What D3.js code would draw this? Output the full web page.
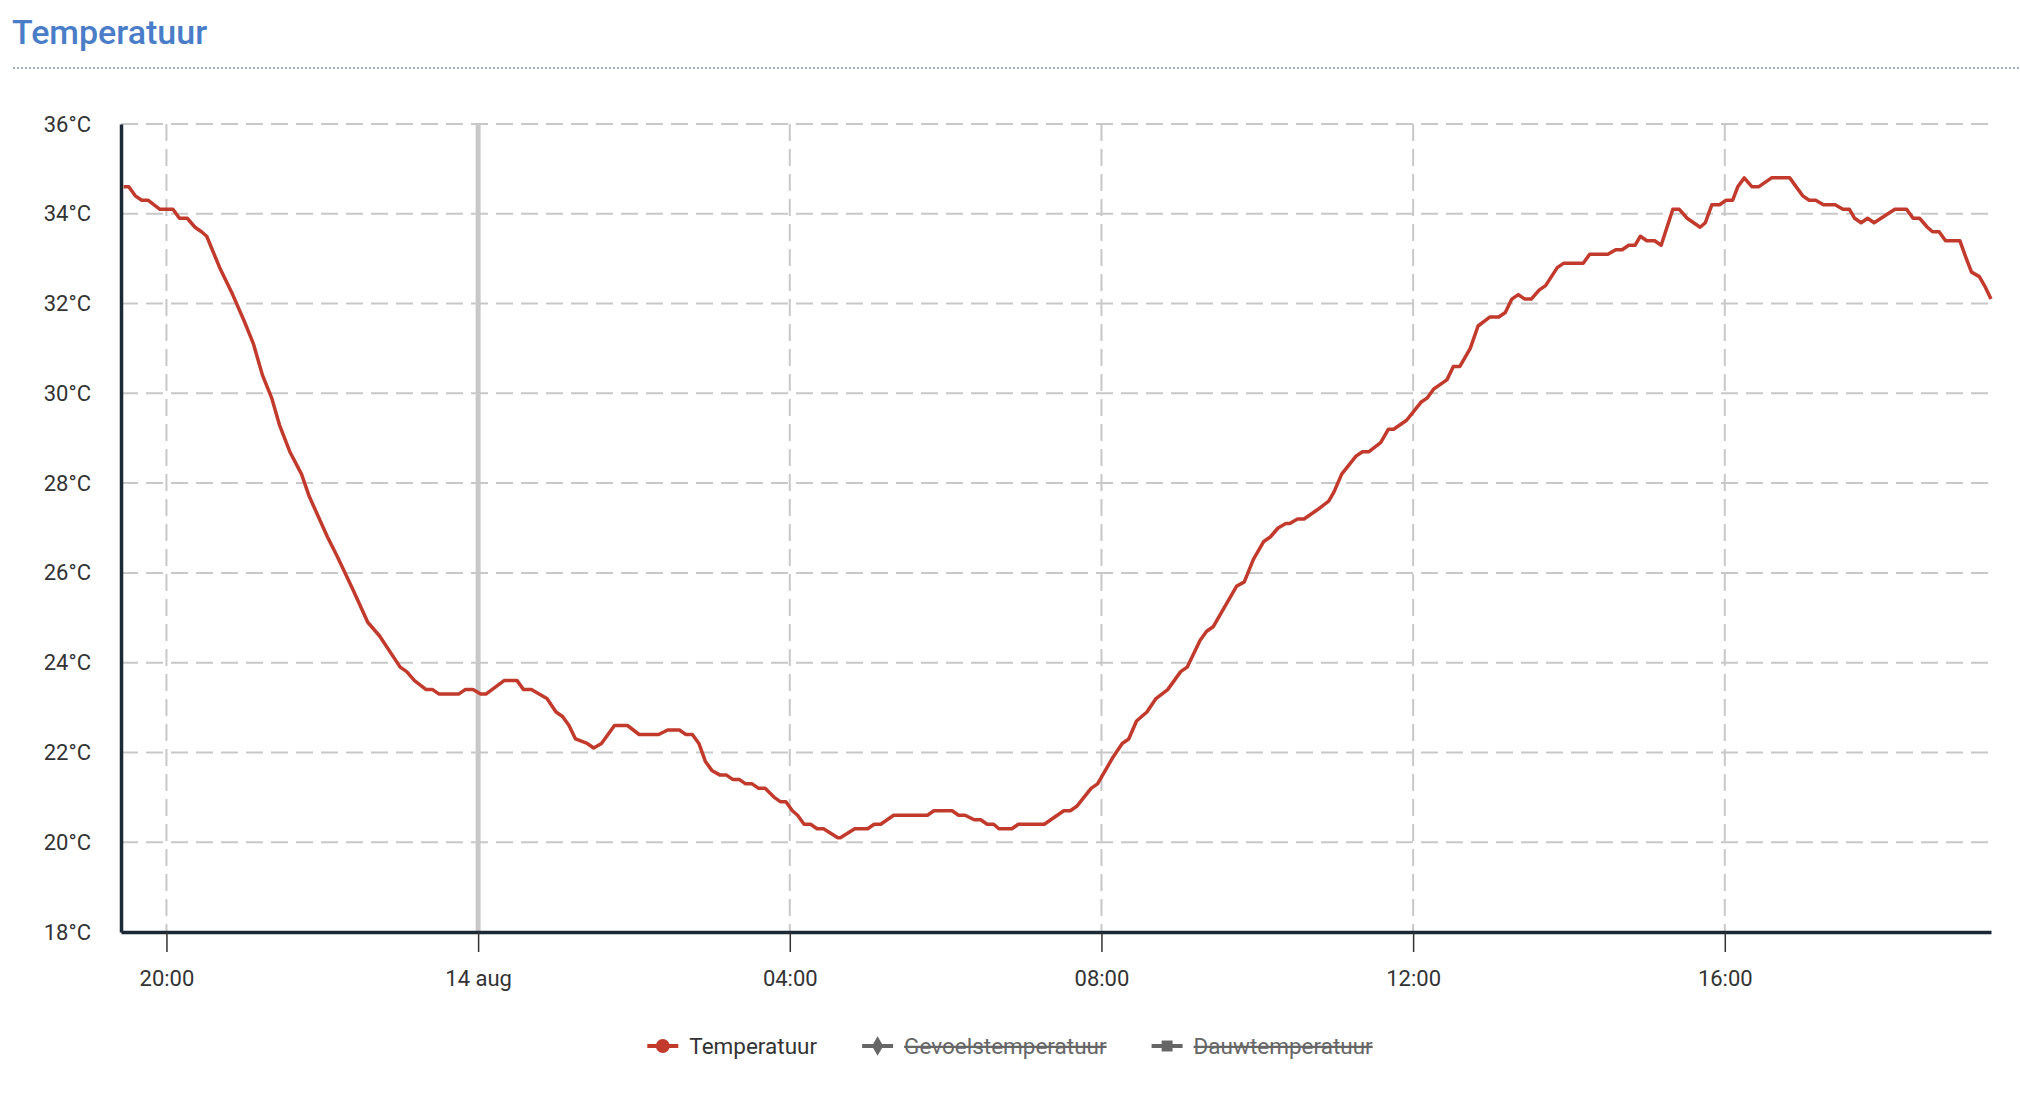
<!DOCTYPE html>
<html>
<head>
<meta charset="utf-8">
<script src="https://cdn.jsdelivr.net/npm/d3@7"></script>
<style>
  body { margin: 0; background: #fff; }
  svg { display: block; font-family: Roboto, "Open Sans", sans-serif; }
</style>
</head>
<body>
<svg id="chart" width="2020" height="1100"></svg>
<script>
// shown window (24 hours)
let time_window = ["08-13 19:25", "08-14 19:25"];

let obs_times = [
	"08-13 19:27","08-13 19:31","08-13 19:36","08-13 19:41","08-13 19:46","08-13 19:55",
	"08-13 20:05","08-13 20:10","08-13 20:16","08-13 20:22","08-13 20:27","08-13 20:31",
	"08-13 20:41","08-13 20:51","08-13 21:00","08-13 21:07","08-13 21:14","08-13 21:21",
	"08-13 21:27","08-13 21:35","08-13 21:44","08-13 21:50","08-13 22:04","08-13 22:11",
	"08-13 22:24","08-13 22:35","08-13 22:44","08-13 23:00","08-13 23:05","08-13 23:11",
	"08-13 23:20","08-13 23:25","08-13 23:30","08-13 23:45","08-13 23:50","08-13 23:56",
	"08-14 00:02","08-14 00:06","08-14 00:20","08-14 00:30","08-14 00:35","08-14 00:41",
	"08-14 00:53","08-14 01:00","08-14 01:05","08-14 01:10","08-14 01:15","08-14 01:24",
	"08-14 01:29","08-14 01:35","08-14 01:45","08-14 01:55","08-14 02:04","08-14 02:19",
	"08-14 02:26","08-14 02:35","08-14 02:40","08-14 02:45","08-14 02:50","08-14 02:55",
	"08-14 03:00","08-14 03:06","08-14 03:11","08-14 03:16","08-14 03:21","08-14 03:26",
	"08-14 03:31","08-14 03:36","08-14 03:41","08-14 03:48","08-14 03:53","08-14 03:57",
	"08-14 04:02","08-14 04:06","08-14 04:11","08-14 04:16","08-14 04:21","08-14 04:26",
	"08-14 04:37","08-14 04:39","08-14 04:50","08-14 05:00","08-14 05:05","08-14 05:10",
	"08-14 05:20","08-14 05:46","08-14 05:51","08-14 06:05","08-14 06:10","08-14 06:15",
	"08-14 06:22","08-14 06:27","08-14 06:32","08-14 06:37","08-14 06:41","08-14 06:51",
	"08-14 06:56","08-14 07:16","08-14 07:31","08-14 07:36","08-14 07:41","08-14 07:52",
	"08-14 07:57","08-14 08:09","08-14 08:16","08-14 08:21","08-14 08:27","08-14 08:35",
	"08-14 08:42","08-14 08:51","08-14 09:01","08-14 09:06","08-14 09:11","08-14 09:16",
	"08-14 09:21","08-14 09:26","08-14 09:32","08-14 09:44","08-14 09:50","08-14 09:57",
	"08-14 10:05","08-14 10:10","08-14 10:16","08-14 10:22","08-14 10:25","08-14 10:31",
	"08-14 10:36","08-14 10:46","08-14 10:55","08-14 10:59","08-14 11:05","08-14 11:16",
	"08-14 11:21","08-14 11:26","08-14 11:35","08-14 11:41","08-14 11:45","08-14 11:50",
	"08-14 11:55","08-14 12:06","08-14 12:11","08-14 12:16","08-14 12:26","08-14 12:31",
	"08-14 12:36","08-14 12:44","08-14 12:50","08-14 12:59","08-14 13:06","08-14 13:11",
	"08-14 13:16","08-14 13:21","08-14 13:26","08-14 13:31","08-14 13:37","08-14 13:42",
	"08-14 13:51","08-14 13:56","08-14 14:11","08-14 14:16","08-14 14:30","08-14 14:36",
	"08-14 14:41","08-14 14:46","08-14 14:51","08-14 14:55","08-14 15:00","08-14 15:06",
	"08-14 15:11","08-14 15:20","08-14 15:25","08-14 15:31","08-14 15:41","08-14 15:45",
	"08-14 15:50","08-14 15:56","08-14 16:01","08-14 16:06","08-14 16:10","08-14 16:15",
	"08-14 16:21","08-14 16:26","08-14 16:36","08-14 16:50","08-14 17:00","08-14 17:05",
	"08-14 17:10","08-14 17:16","08-14 17:25","08-14 17:31","08-14 17:36","08-14 17:40",
	"08-14 17:45","08-14 17:50","08-14 17:55","08-14 18:11","08-14 18:20","08-14 18:25",
	"08-14 18:30","08-14 18:36","08-14 18:40","08-14 18:45","08-14 18:50","08-14 19:01",
	"08-14 19:06","08-14 19:10","08-14 19:16","08-14 19:20","08-14 19:25"
];

let temp_values = [
	34.6,34.6,34.4,34.3,34.3,34.1,
	34.1,33.9,33.9,33.7,33.6,33.5,
	32.8,32.2,31.6,31.1,30.4,29.9,
	29.3,28.7,28.2,27.7,26.8,26.4,
	25.6,24.9,24.6,23.9,23.8,23.6,
	23.4,23.4,23.3,23.3,23.4,23.4,
	23.3,23.3,23.6,23.6,23.4,23.4,
	23.2,22.9,22.8,22.6,22.3,22.2,
	22.1,22.2,22.6,22.6,22.4,22.4,
	22.5,22.5,22.4,22.4,22.2,21.8,
	21.6,21.5,21.5,21.4,21.4,21.3,
	21.3,21.2,21.2,21.0,20.9,20.9,
	20.7,20.6,20.4,20.4,20.3,20.3,
	20.1,20.1,20.3,20.3,20.4,20.4,
	20.6,20.6,20.7,20.7,20.6,20.6,
	20.5,20.5,20.4,20.4,20.3,20.3,
	20.4,20.4,20.7,20.7,20.8,21.2,
	21.3,21.9,22.2,22.3,22.7,22.9,
	23.2,23.4,23.8,23.9,24.2,24.5,
	24.7,24.8,25.1,25.7,25.8,26.3,
	26.7,26.8,27.0,27.1,27.1,27.2,
	27.2,27.4,27.6,27.8,28.2,28.6,
	28.7,28.7,28.9,29.2,29.2,29.3,
	29.4,29.8,29.9,30.1,30.3,30.6,
	30.6,31.0,31.5,31.7,31.7,31.8,
	32.1,32.2,32.1,32.1,32.3,32.4,
	32.8,32.9,32.9,33.1,33.1,33.2,
	33.2,33.3,33.3,33.5,33.4,33.4,
	33.3,34.1,34.1,33.9,33.7,33.8,
	34.2,34.2,34.3,34.3,34.6,34.8,
	34.6,34.6,34.8,34.8,34.4,34.3,
	34.3,34.2,34.2,34.1,34.1,33.9,
	33.8,33.9,33.8,34.1,34.1,33.9,
	33.9,33.7,33.6,33.6,33.4,33.4,
	33.0,32.7,32.6,32.4,32.1
];

let y_ticks = [18, 20, 22, 24, 26, 28, 30, 32, 34, 36];

let legend_items = [
	{ name: "Temperatuur", color: "#c23a2b", symbol: "circle", hidden: false },
	{ name: "Gevoelstemperatuur", color: "#666666", symbol: "diamond", hidden: true },
	{ name: "Dauwtemperatuur", color: "#666666", symbol: "square", hidden: true }
];

const width = 2020, height = 1100;
const margin = { top: 124, right: 29, bottom: 168, left: 121 };
const lineColor = "#c23a2b";
const axisColor = "#1b2836";
const gridColor = "#c8c8c8";

let parseTime = d3.timeParse("%m-%d %H:%M");
let data = obs_times.map((t, i) => ({ time: parseTime(t), value: temp_values[i] }));

let svg = d3.select("#chart");

// title + dotted separator
svg.append("text")
	.attr("x", 12)
	.attr("y", 44)
	.style("font-size", "34px")
	.style("font-weight", "500")
	.style("fill", "#4a7dc8")
	.text("Temperatuur");

svg.append("line")
	.attr("x1", 13).attr("x2", width)
	.attr("y1", 68).attr("y2", 68)
	.style("stroke", "#8799a6")
	.style("stroke-width", "1.5px")
	.style("stroke-dasharray", "2,2");

let x = d3.scaleTime()
	.domain(time_window.map(parseTime))
	.range([margin.left, width - margin.right]);

let y = d3.scaleLinear()
	.domain([d3.min(y_ticks), d3.max(y_ticks)])
	.range([height - margin.bottom, margin.top]);

let x_ticks = x.ticks(d3.timeHour.every(4));
let isMidnight = d => d.getHours() === 0 && d.getMinutes() === 0;

// horizontal grid
svg.append("g")
	.selectAll("line")
	.data(y_ticks.filter(d => d !== d3.min(y_ticks)))
	.join("line")
	.attr("x1", margin.left).attr("x2", width - margin.right)
	.attr("y1", d => y(d)).attr("y2", d => y(d))
	.style("stroke", gridColor)
	.style("stroke-width", "2px")
	.style("stroke-dasharray", "17,8");

// vertical grid
svg.append("g")
	.selectAll("line")
	.data(x_ticks.filter(d => !isMidnight(d)))
	.join("line")
	.attr("x1", d => x(d)).attr("x2", d => x(d))
	.attr("y1", margin.top).attr("y2", height - margin.bottom)
	.style("stroke", gridColor)
	.style("stroke-width", "2px")
	.style("stroke-dasharray", "17,8");

// day separator
svg.append("g")
	.selectAll("line")
	.data(x_ticks.filter(isMidnight))
	.join("line")
	.attr("x1", d => x(d)).attr("x2", d => x(d))
	.attr("y1", margin.top).attr("y2", height - margin.bottom)
	.style("stroke", "#c8c8c8")
	.style("stroke-width", "5px");

// axes
let fmtHour = d3.timeFormat("%H:%M");
let fmtDay = d => d.getDate() + " aug";

let xAxis = svg.append("g")
	.attr("transform", `translate(0,${height - margin.bottom})`)
	.call(d3.axisBottom(x)
		.tickValues(x_ticks)
		.tickSize(20)
		.tickSizeOuter(0)
		.tickPadding(18)
		.tickFormat(d => isMidnight(d) ? fmtDay(d) : fmtHour(d)));

xAxis.select(".domain")
	.style("stroke", axisColor)
	.style("stroke-width", "3.5px");
xAxis.selectAll(".tick line")
	.style("stroke", "#333")
	.style("stroke-width", "1.5px");
xAxis.selectAll(".tick text")
	.style("font-family", "Roboto, sans-serif")
	.style("font-size", "22px")
	.style("fill", "#333");

let yAxis = svg.append("g")
	.attr("transform", `translate(${margin.left},0)`)
	.call(d3.axisLeft(y)
		.tickValues(y_ticks)
		.tickSize(0)
		.tickSizeOuter(0)
		.tickPadding(30)
		.tickFormat(d => d + "°C"));

yAxis.select(".domain")
	.style("stroke", axisColor)
	.style("stroke-width", "3.5px");
yAxis.selectAll(".tick text")
	.style("font-family", "Roboto, sans-serif")
	.style("font-size", "22px")
	.style("fill", "#333");

// temperature line
let line = d3.line()
	.x(d => x(d.time))
	.y(d => y(d.value));

svg.append("path")
	.datum(data)
	.attr("d", line)
	.style("fill", "none")
	.style("stroke", lineColor)
	.style("stroke-width", "3.5px")
	.style("stroke-linejoin", "round");

// legend
let legend = svg.append("g").attr("class", "legend");
let legendY = 1046;
let items = legend.selectAll("g")
	.data(legend_items)
	.join("g");

items.append("line")
	.attr("x1", 0).attr("x2", 31)
	.attr("y1", 0).attr("y2", 0)
	.style("stroke", d => d.color)
	.style("stroke-width", "4px");

items.append("path")
	.attr("transform", "translate(15.5,0)")
	.attr("d", d => {
		let sym = d.symbol === "circle" ? d3.symbolCircle
			: d.symbol === "diamond" ? d3.symbolDiamond : d3.symbolSquare;
		let size = d.symbol === "circle" ? 150 : d.symbol === "diamond" ? 110 : 120;
		return d3.symbol().type(sym).size(size)();
	})
	.style("fill", d => d.color);

items.append("text")
	.attr("x", 42)
	.attr("y", 0)
	.attr("dy", "0.35em")
	.style("font-size", "22.5px")
	.style("fill", d => d.hidden ? "#666" : "#333")
	.style("text-decoration", d => d.hidden ? "line-through" : "none")
	.text(d => d.name);

// place items side by side, centred on the page
let offsets = [];
let cursor = 0;
items.each(function() {
	let w = 42 + d3.select(this).select("text").node().getComputedTextLength();
	offsets.push(cursor);
	cursor += w + 45;
});
let total = cursor - 45;
let startX = width / 2 - total / 2;
items.attr("transform", (d, i) => `translate(${startX + offsets[i]},${legendY})`);
</script>
</body>
</html>
